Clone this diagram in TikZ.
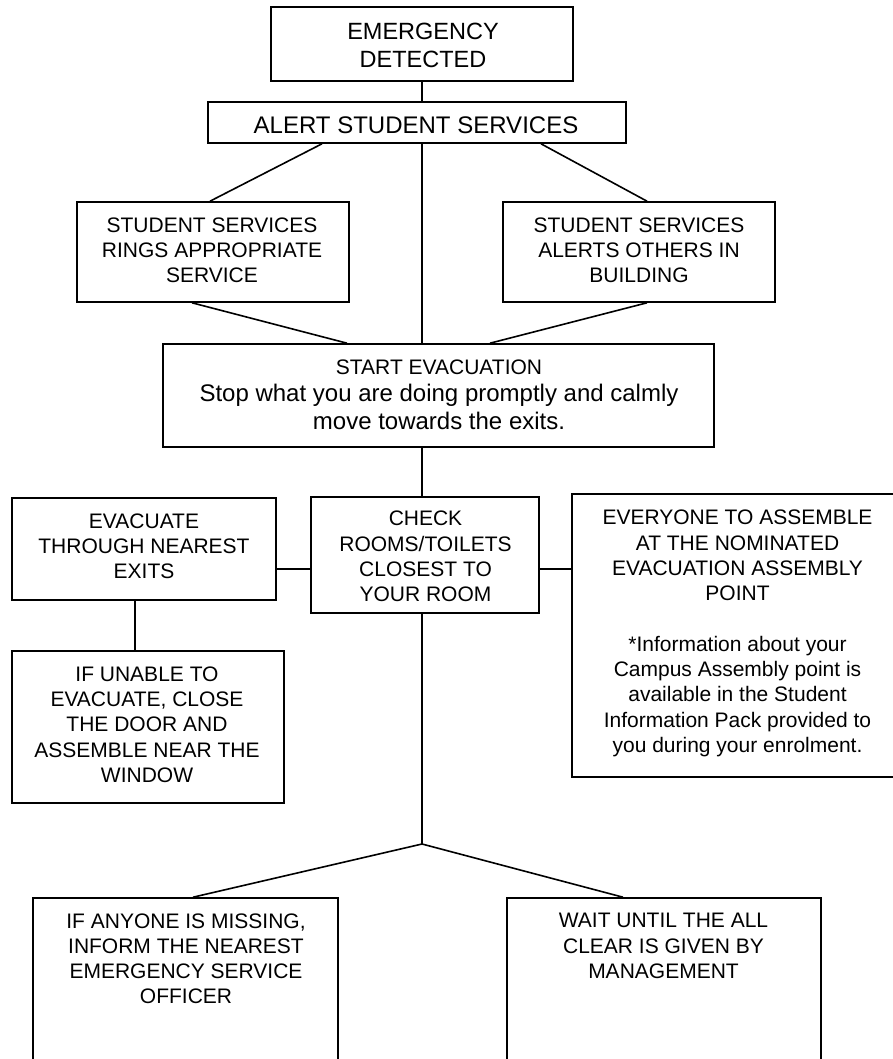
\documentclass[tikz,border=0pt]{standalone}
\usepackage{fontspec}
\setmainfont{Liberation Sans}
\usetikzlibrary{calc}
\begin{document}
\begin{tikzpicture}[x=1pt,y=-1pt,
  box/.style={draw, line width=1.6pt, rectangle, inner sep=0pt},
  txt/.style={anchor=north, align=center, inner sep=0pt, font=\fontsize{21}{25.2}\selectfont},
  conn/.style={line width=1.6pt}]
\useasboundingbox (0,0) rectangle (893,1059);
\clip (0,0) rectangle (893,1059);
% boxes
\node[box, minimum width=302pt, minimum height=74pt] (emerg) at (422,44) {};
\node[box, minimum width=418pt, minimum height=41pt] (alert) at (417,122.5) {};
\node[box, minimum width=272pt, minimum height=100pt] (rings) at (213,252) {};
\node[box, minimum width=272pt, minimum height=100pt] (others) at (639,252) {};
\node[box, minimum width=551pt, minimum height=103pt] (start) at (438.5,395.5) {};
\node[box, minimum width=264pt, minimum height=102pt] (evac) at (144,549) {};
\node[box, minimum width=228pt, minimum height=116pt] (check) at (425,555) {};
\node[box, minimum width=331pt, minimum height=283pt] (every) at (737.5,635.5) {};
\node[box, minimum width=272pt, minimum height=152pt] (unable) at (148,727) {};
\node[box, minimum width=305pt, minimum height=182pt] (missing) at (185.5,989) {};
\node[box, minimum width=314pt, minimum height=182pt] (wait) at (664,989) {};
% texts
\node[txt, font=\fontsize{23.5}{27.7}\selectfont] (emergT) at (423,23.2) {EMERGENCY\\DETECTED};
\node[txt, font=\fontsize{24}{28}\selectfont] (alertT) at (416,116.1) {ALERT STUDENT SERVICES};
\node[txt] (ringsT) at (212,217.3) {STUDENT SERVICES\\RINGS APPROPRIATE\\SERVICE};
\node[txt] (othersT) at (639,217.3) {STUDENT SERVICES\\ALERTS OTHERS IN\\BUILDING};
\node[txt, font=\fontsize{24}{27.5}\selectfont] (startT) at (439,359.3) {{\fontsize{21}{25}\selectfont START EVACUATION}\\Stop what you are doing promptly and calmly\\move towards the exits.};
\node[txt] (evacT) at (144,513.3) {EVACUATE\\THROUGH NEAREST\\EXITS};
\node[txt] (checkT) at (425.5,511) {CHECK\\ROOMS/TOILETS\\CLOSEST TO\\YOUR ROOM};
\node[txt, font=\fontsize{21}{25.3}\selectfont] (everyT) at (737.5,510) {EVERYONE TO ASSEMBLE\\AT THE NOMINATED\\EVACUATION ASSEMBLY\\POINT\\~\\{*}Information about your\\Campus Assembly point is\\available in the Student\\Information Pack provided to\\you during your enrolment.};
\node[txt] (unableT) at (147,666.7) {IF UNABLE TO\\EVACUATE, CLOSE\\THE DOOR AND\\ASSEMBLE NEAR THE\\WINDOW};
\node[txt] (missingT) at (186,913.3) {IF ANYONE IS MISSING,\\INFORM THE NEAREST\\EMERGENCY SERVICE\\OFFICER};
\node[txt] (waitT) at (663.5,913.3) {WAIT UNTIL THE ALL\\CLEAR IS GIVEN BY\\MANAGEMENT};
% connectors
\coordinate (junc) at (422,844);
\draw[conn] (emerg.south) -- (emerg.south |- alert.north);
\draw[conn] ($(alert.south)+(-95,0)$) -- ($(rings.north)+(-3,0)$);
\draw[conn] ($(alert.south)+(124,0)$) -- ($(others.north)+(8,0)$);
\draw[conn] (alert.south -| emerg.south) -- (start.north -| emerg.south);
\draw[conn] ($(rings.south)+(-21,0)$) -- ($(start.north)+(-91.5,0)$);
\draw[conn] ($(others.south)+(8,0)$) -- ($(start.north)+(51.5,0)$);
\draw[conn] (start.south -| emerg.south) -- (check.north -| emerg.south);
\draw[conn] ($(evac.east)+(0,20)$) -- ($(check.west)+(0,14)$);
\draw[conn] ($(check.east)+(0,14)$) -- ($(every.west)+(0,-66.5)$);
\draw[conn] ($(evac.south)+(-9,0)$) -- ($(unable.north)+(-13,0)$);
\draw[conn] (check.south -| junc) -- (junc);
\draw[conn] (junc) -- ($(missing.north)+(7.5,0)$);
\draw[conn] (junc) -- ($(wait.north)+(-41,0)$);
\end{tikzpicture}
\end{document}
